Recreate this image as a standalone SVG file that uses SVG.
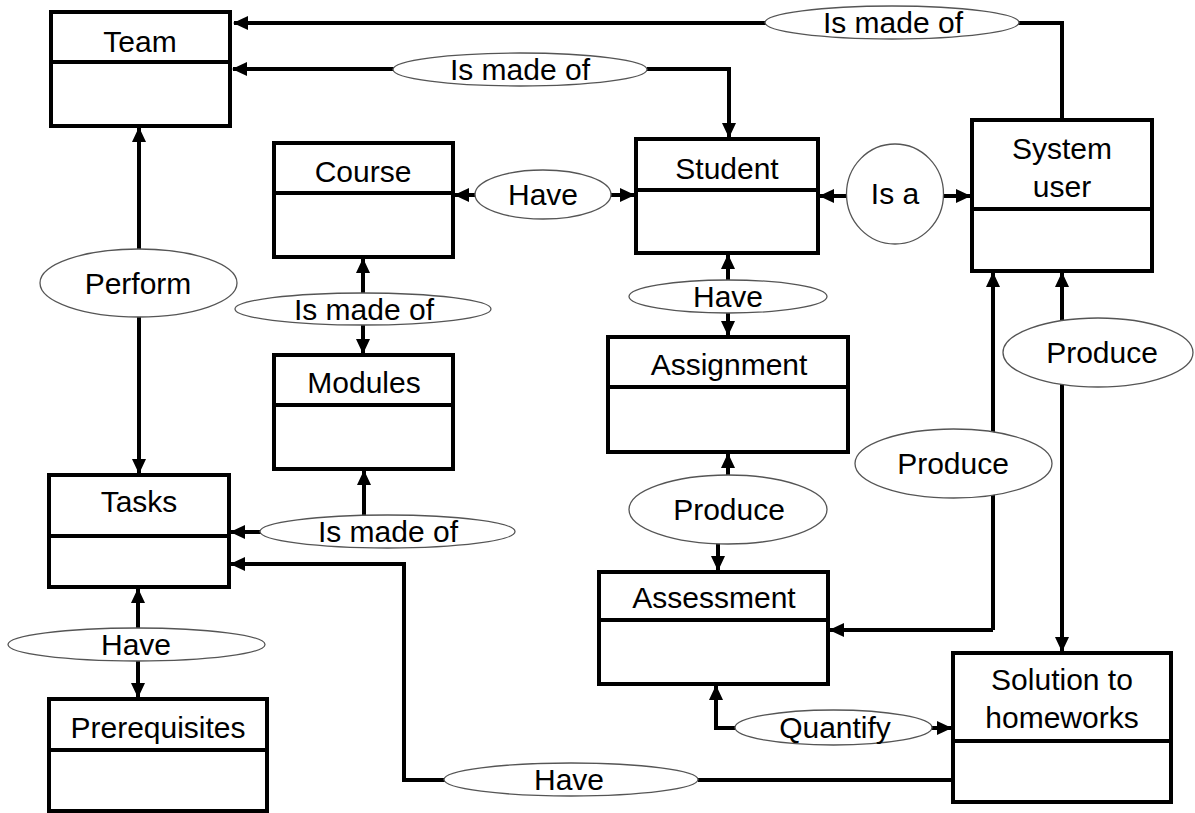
<svg xmlns="http://www.w3.org/2000/svg" width="1195" height="813" viewBox="0 0 1195 813">
<style>
.box{fill:#fff;stroke:#000;stroke-width:4}
.div{stroke:#000;stroke-width:4}
.t{font-family:"Liberation Sans",Arial,sans-serif;font-size:30px;fill:#000;text-anchor:middle}
.ell{fill:#fff;stroke:#555;stroke-width:1.3}
.c{fill:none;stroke:#000;stroke-width:4}
</style>
<defs>
<marker id="ah" markerUnits="userSpaceOnUse" markerWidth="15" markerHeight="14" refX="14" refY="7" orient="auto">
<path d="M0,0 L15,7 L0,14 Z" fill="#000"/>
</marker>
</defs>
<rect width="1195" height="813" fill="#fff"/>
<g id="connectors">
<path class="c" d="M1062,120 V23 H234" marker-end="url(#ah)"/>
<path class="c" d="M394,69 H233" marker-end="url(#ah)"/>
<path class="c" d="M647,69 H729 V137" marker-end="url(#ah)"/>
<path class="c" d="M476,195 H455" marker-end="url(#ah)"/>
<path class="c" d="M611,195 H634" marker-end="url(#ah)"/>
<path class="c" d="M848,196 H820" marker-end="url(#ah)"/>
<path class="c" d="M943,196 H970" marker-end="url(#ah)"/>
<path class="c" d="M139,250 V128" marker-end="url(#ah)"/>
<path class="c" d="M139,316 V473" marker-end="url(#ah)"/>
<path class="c" d="M363,294 V259" marker-end="url(#ah)"/>
<path class="c" d="M363,324 V353" marker-end="url(#ah)"/>
<path class="c" d="M364,516 V471" marker-end="url(#ah)"/>
<path class="c" d="M261,532 H231" marker-end="url(#ah)"/>
<path class="c" d="M953,780 H698"/>
<path class="c" d="M445,780 H404 V564 H231" marker-end="url(#ah)"/>
<path class="c" d="M138,629 V589" marker-end="url(#ah)"/>
<path class="c" d="M138,660 V697" marker-end="url(#ah)"/>
<path class="c" d="M728,281 V255" marker-end="url(#ah)"/>
<path class="c" d="M728,312 V335" marker-end="url(#ah)"/>
<path class="c" d="M728,476 V454" marker-end="url(#ah)"/>
<path class="c" d="M718,542 V570" marker-end="url(#ah)"/>
<path class="c" d="M993,630 V273" marker-end="url(#ah)"/>
<path class="c" d="M993,630 H830" marker-end="url(#ah)"/>
<path class="c" d="M1062,460 V273" marker-end="url(#ah)"/>
<path class="c" d="M1062,460 V651" marker-end="url(#ah)"/>
<path class="c" d="M736,728 H716 V686" marker-end="url(#ah)"/>
<path class="c" d="M931,728 H951" marker-end="url(#ah)"/>
</g>
<g id="label-ismadeof-top"><ellipse class="ell" cx="892" cy="22.5" rx="127" ry="16.5"/><text class="t" x="893" y="33">Is made of</text></g>
<g id="label-ismadeof-team"><ellipse class="ell" cx="520" cy="69.5" rx="127" ry="16.5"/><text class="t" x="520" y="80">Is made of</text></g>
<g id="label-have-course"><ellipse class="ell" cx="543" cy="194.5" rx="68" ry="24.5"/><text class="t" x="543" y="205">Have</text></g>
<g id="label-isa"><ellipse class="ell" cx="895" cy="194" rx="48.5" ry="50"/><text class="t" x="895" y="204">Is a</text></g>
<g id="label-perform"><ellipse class="ell" cx="138.5" cy="283" rx="98.5" ry="34"/><text class="t" x="138" y="294">Perform</text></g>
<g id="label-ismadeof-course"><ellipse class="ell" cx="363" cy="309" rx="128" ry="16"/><text class="t" x="364" y="320">Is made of</text></g>
<g id="label-ismadeof-tasks"><ellipse class="ell" cx="387.5" cy="531.5" rx="127.5" ry="16.5"/><text class="t" x="388" y="542">Is made of</text></g>
<g id="label-have-tasks"><ellipse class="ell" cx="136.5" cy="644.5" rx="128.5" ry="16.5"/><text class="t" x="136" y="655">Have</text></g>
<g id="label-have-student"><ellipse class="ell" cx="728" cy="296.5" rx="99" ry="16.5"/><text class="t" x="728" y="307">Have</text></g>
<g id="label-produce-assign"><ellipse class="ell" cx="728" cy="509.5" rx="99" ry="34.5"/><text class="t" x="729" y="520">Produce</text></g>
<g id="label-produce-assess"><ellipse class="ell" cx="953.5" cy="463.5" rx="98.5" ry="34.5"/><text class="t" x="953" y="474">Produce</text></g>
<g id="label-produce-solution"><ellipse class="ell" cx="1098" cy="352.5" rx="95" ry="34.5"/><text class="t" x="1102" y="363">Produce</text></g>
<g id="label-quantify"><ellipse class="ell" cx="833.5" cy="727.5" rx="98.5" ry="17.5"/><text class="t" x="835" y="738">Quantify</text></g>
<g id="label-have-bottom"><ellipse class="ell" cx="571" cy="779.5" rx="127" ry="16.5"/><text class="t" x="569" y="790">Have</text></g>
<g id="team"><rect class="box" x="51" y="12" width="179" height="114"/><line class="div" x1="51" y1="62" x2="230" y2="62"/><text class="t" x="140" y="52">Team</text></g>
<g id="course"><rect class="box" x="274" y="143" width="179" height="114"/><line class="div" x1="274" y1="193" x2="453" y2="193"/><text class="t" x="363" y="182">Course</text></g>
<g id="student"><rect class="box" x="636" y="139" width="182" height="114"/><line class="div" x1="636" y1="190" x2="818" y2="190"/><text class="t" x="727" y="179">Student</text></g>
<g id="system-user"><rect class="box" x="972" y="120" width="180" height="151"/><line class="div" x1="972" y1="209" x2="1152" y2="209"/><text class="t" x="1062" y="159">System</text><text class="t" x="1062" y="197">user</text></g>
<g id="modules"><rect class="box" x="274" y="355" width="179" height="114"/><line class="div" x1="274" y1="405" x2="453" y2="405"/><text class="t" x="364" y="393">Modules</text></g>
<g id="assignment"><rect class="box" x="608" y="337" width="240" height="115"/><line class="div" x1="608" y1="387" x2="848" y2="387"/><text class="t" x="729" y="375">Assignment</text></g>
<g id="tasks"><rect class="box" x="49" y="475" width="180" height="112"/><line class="div" x1="49" y1="536" x2="229" y2="536"/><text class="t" x="139" y="512">Tasks</text></g>
<g id="assessment"><rect class="box" x="599" y="572" width="229" height="112"/><line class="div" x1="599" y1="620" x2="828" y2="620"/><text class="t" x="714" y="608">Assessment</text></g>
<g id="solution"><rect class="box" x="953" y="653" width="218" height="149"/><line class="div" x1="953" y1="741" x2="1171" y2="741"/><text class="t" x="1062" y="690">Solution to</text><text class="t" x="1062" y="728">homeworks</text></g>
<g id="prerequisites"><rect class="box" x="49" y="699" width="218" height="112"/><line class="div" x1="49" y1="750" x2="267" y2="750"/><text class="t" x="158" y="738">Prerequisites</text></g>
</svg>
